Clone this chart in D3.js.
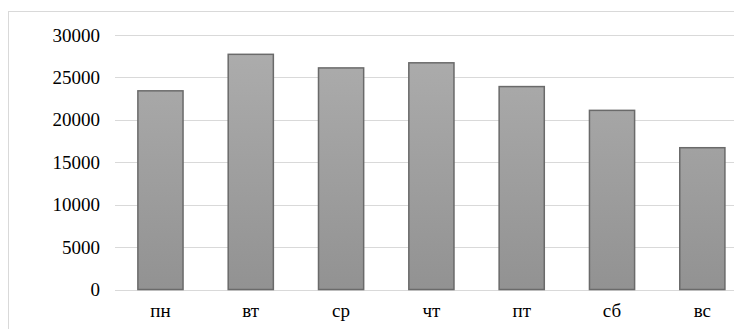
<!DOCTYPE html>
<html>
<head>
<meta charset="utf-8">
<script src="https://cdn.jsdelivr.net/npm/d3@7"></script>
<style>
  html, body { margin: 0; padding: 0; background: #fff; }
  svg { display: block; }
  .lbl { font-family: "Liberation Serif", "Times New Roman", "DejaVu Serif", serif; }
</style>
</head>
<body>
<svg id="chart" width="734" height="329"></svg>
<script>
// Weekly distribution: days of week and values
const days = ["пн", "вт", "ср", "чт", "пт", "сб", "вс"];
const values = [23400, 27700, 26100, 26700, 23900, 21100, 16700];
const yTicks = [0, 5000, 10000, 15000, 20000, 25000, 30000];

const svg = d3.select("#chart");
const W = 734, H = 329;

// Chart area frame
svg.append("rect")
  .attr("x", 8.5).attr("y", 11.5)
  .attr("width", W + 20).attr("height", H + 20)
  .attr("fill", "#fff")
  .attr("stroke", "#d9d9d9").attr("stroke-width", 1);

const x = d3.scaleBand()
  .domain(days)
  .range([115.3, 747.5])
  .paddingInner(0.5)
  .paddingOuter(0.25);

const y = d3.scaleLinear()
  .domain([0, 30000])
  .range([289.5, 34.8]);

// Vertical gradient shared by all bars
const defs = svg.append("defs");
const grad = defs.append("linearGradient")
  .attr("id", "barGrad")
  .attr("gradientUnits", "userSpaceOnUse")
  .attr("x1", 0).attr("y1", y(30000)).attr("x2", 0).attr("y2", y(0));
grad.append("stop").attr("offset", "0%").attr("stop-color", "#aeaeae");
grad.append("stop").attr("offset", "100%").attr("stop-color", "#929292");

// Gridlines
svg.append("g")
  .selectAll("line")
  .data(yTicks)
  .join("line")
  .attr("x1", 115).attr("x2", W)
  .attr("y1", d => Math.round(y(d)) + 0.5)
  .attr("y2", d => Math.round(y(d)) + 0.5)
  .attr("stroke", "#d9d9d9")
  .attr("stroke-width", 1);

// Y axis labels
const yAxis = d3.axisLeft(y).tickValues(yTicks).tickSize(0).tickPadding(0).tickFormat(d3.format("d"));
const gy = svg.append("g")
  .attr("transform", "translate(100,0)")
  .call(yAxis)
  .attr("font-family", null)
  .attr("font-size", null);
gy.select(".domain").remove();
gy.selectAll("text")
  .attr("class", "lbl")
  .style("font-size", "19px")
  .attr("fill", "#000")
  .attr("dy", "0.33em");

// Bars
svg.append("g")
  .selectAll("rect")
  .data(days.map((d, i) => ({ day: d, value: values[i] })))
  .join("rect")
  .attr("x", d => x(d.day))
  .attr("y", d => y(d.value))
  .attr("width", x.bandwidth())
  .attr("height", d => y(0) - y(d.value))
  .attr("fill", "url(#barGrad)")
  .attr("stroke", "#6a6a6a")
  .attr("stroke-width", 1.5);

// X axis labels
const xAxis = d3.axisBottom(x).tickSize(0).tickPadding(0);
const gx = svg.append("g")
  .attr("transform", "translate(0,303)")
  .call(xAxis)
  .attr("font-family", null)
  .attr("font-size", null);
gx.select(".domain").remove();
gx.selectAll("text")
  .attr("class", "lbl")
  .style("font-size", "19px")
  .attr("fill", "#000")
  .attr("dy", "0.71em");
</script>
</body>
</html>
